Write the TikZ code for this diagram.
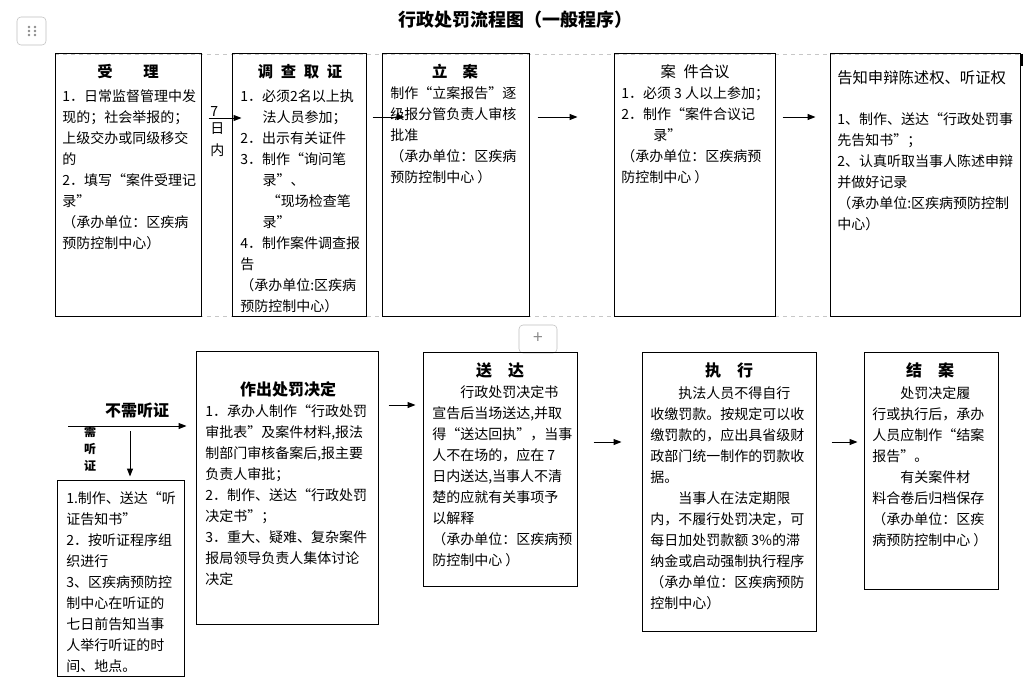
\documentclass[tikz,border=0pt]{standalone}
\usepackage{fontspec}
\setmainfont{Noto Sans CJK SC}
\usetikzlibrary{arrows.meta,calc,fit}
\tikzset{
  box/.style={draw, line width=0.75pt, inner sep=0pt},
  txt/.style={anchor=north west, align=left, inner sep=0pt, font=\fontsize{10.5}{15.75}\selectfont},
  ttl/.style={inner sep=0pt, font=\fontsize{11.5}{14}\selectfont\bfseries},
  arr/.style={line width=0.75pt, -{Triangle[length=6pt,width=4.5pt]}},
  grid/.style={black!22, dashed, line width=0.5pt},
}

\begin{document}
\begin{tikzpicture}[x=0.75pt,y=-0.75pt]
\useasboundingbox (0,0) rectangle (1030,692);
\fill[white] (0,0) rectangle (1030,692);

% editor handles
\draw[black!25, rounded corners=3pt] (17,17) rectangle (46,45);
\foreach \dx in {29,35}
  \foreach \dy in {27,31,35}
    \fill[black!45] (\dx,\dy) circle (1pt);
\draw[black!25, rounded corners=3pt] (519,325) rectangle (557,353);
\node[text=black!45, font=\fontsize{13}{13}\selectfont] (plus) at (538,338) {+};

\node[font=\fontsize{13.5}{16}\selectfont\bfseries] (title) at (515,20) {行政处罚流程图（一般程序）};

\draw[grid] (55,54) -- (1020,54);
\draw[grid] (55,316) -- (1020,316);
\draw[line width=2pt] (1022,54) -- (1022,66);

% top row
\node[box, fit={(55,54) (201,316)}] (sl) {};
\node[ttl] (sl-h) at (128,72) {受\hspace{2em}理};
\node[txt] (sl-t) at (62,89) {1．日常监督管理中发\\现的；社会举报的；\\上级交办或同级移交\\的\\2．填写“案件受理记\\录”\\（承办单位：区疾病\\预防控制中心）};

\node[box, fit={(232,54) (366,316)}] (dc) {};
\node[ttl] (dc-h) at (300,72) {调\hspace{0.5em}查\hspace{0.5em}取\hspace{0.5em}证};
\node[txt] (dc-t) at (240,89) {1．必须2名以上执\\\hspace*{1.6em}法人员参加；\\2．出示有关证件\\3．制作“询问笔\\\hspace*{1.6em}录”、\\\hspace*{1.9em}“现场检查笔\\\hspace*{1.6em}录”\\4．制作案件调查报\\告\\（承办单位:区疾病\\预防控制中心）};

\node[box, fit={(382,54) (529,316)}] (la) {};
\node[ttl] (la-h) at (455,72) {立\hspace{1em}案};
\node[txt] (la-t) at (390,86) {制作“立案报告”逐\\级报分管负责人审核\\批准\\（承办单位：区疾病\\预防控制中心 ）};

\node[box, fit={(614,54) (775,316)}] (hy) {};
\node[inner sep=0pt, font=\fontsize{11.5}{14}\selectfont] (hy-h) at (695,72) {案\hspace{0.5em}件合议};
\node[txt] (hy-t) at (621,86) {1．必须 3 人以上参加；\\2．制作“案件合议记\\\hspace*{2.3em}录”\\（承办单位：区疾病预\\防控制中心 ）};

\node[box, fit={(830,54) (1020,316)}] (gz) {};
\node[anchor=west, inner sep=0pt, font=\fontsize{11.5}{14}\selectfont] (gz-h) at (837,78) {告知申辩陈述权、听证权};
\node[txt] (gz-t) at (837,112) {1、制作、送达“行政处罚事\\先告知书”；\\2、认真听取当事人陈述申辩\\并做好记录\\（承办单位:区疾病预防控制\\中心）};

\draw[arr] ($(sl.east |- 0,118)+(7,0)$) -- ($(dc.west |- 0,118)+(10,0)$)
  node[at start, anchor=south west, inner sep=1pt, font=\fontsize{10.5}{12}\selectfont] (d7) {7}
  node[at start, anchor=north west, inner sep=1pt, yshift=-2pt, align=center, font=\fontsize{10.5}{16.5}\selectfont] (dn) {日\\内};
\draw[arr] ($(dc.east |- 0,117)+(6,0)$) -- ($(la.west |- 0,117)+(23,0)$);
\draw[arr] ($(la.east |- 0,117)+(8,0)$) -- ($(hy.west |- 0,117)+(-36,0)$);
\draw[arr] ($(hy.east |- 0,117)+(7,0)$) -- ($(gz.west |- 0,117)+(-14,0)$);

% bottom row
\node[box, fit={(196,351) (378,624)}] (zc) {};
\node[ttl, font=\fontsize{12}{14}\selectfont\bfseries] (zc-h) at (288,389) {作出处罚决定};
\node[txt] (zc-t) at (205,404) {1．承办人制作“行政处罚\\审批表”及案件材料,报法\\制部门审核备案后,报主要\\负责人审批；\\2．制作、送达“行政处罚\\决定书”；\\3．重大、疑难、复杂案件\\报局领导负责人集体讨论\\决定};

\coordinate (fork) at (68,426);
\node[font=\fontsize{12}{14}\selectfont\bfseries, inner sep=0pt] (bx) at (137,411) {不需听证};
\draw[arr] (fork) -- ($(fork -| zc.west)+(-9,0)$);
\node[align=center, inner sep=0pt, font=\fontsize{9}{13}\selectfont\bfseries] (xt) at (90,449) {需\\听\\证};

\node[box, fit={(57,480) (184,676)}] (tz) {};
\coordinate (hs) at (130,431);
\draw[arr] (hs) -- ($(hs |- tz.north)+(0,-3)$);
\begin{scope}
\clip (57,480) rectangle (184,673);
\node[txt] (tz-t) at (66,491) {1.制作、送达“听\\证告知书”\\2．按听证程序组\\织进行\\3、区疾病预防控\\制中心在听证的\\七日前告知当事\\人举行听证的时\\间、地点。};
\end{scope}

\node[box, fit={(423,352) (577,586)}] (sd) {};
\node[ttl, font=\fontsize{12}{14}\selectfont\bfseries] (sd-h) at (500,370) {送\hspace{1em}达};
\node[txt] (sd-t) at (432,385) {\hspace*{2em}行政处罚决定书\\宣告后当场送达,并取\\得“送达回执”，当事\\人不在场的，应在 7\\日内送达,当事人不清\\楚的应就有关事项予\\以解释\\（承办单位：区疾病预\\防控制中心 ）};

\node[box, fit={(642,352) (816,631)}] (zx) {};
\node[ttl, font=\fontsize{12}{14}\selectfont\bfseries] (zx-h) at (729,370) {执\hspace{1em}行};
\node[txt] (zx-t) at (650,386) {\hspace*{2em}执法人员不得自行\\收缴罚款。按规定可以收\\缴罚款的，应出具省级财\\政部门统一制作的罚款收\\据。\\\hspace*{2em}当事人在法定期限\\内，不履行处罚决定，可\\每日加处罚款额 3\%的滞\\纳金或启动强制执行程序\\（承办单位：区疾病预防\\控制中心）};

\node[box, fit={(864,352) (998,589)}] (ja) {};
\node[ttl, font=\fontsize{12}{14}\selectfont\bfseries] (ja-h) at (930,370) {结\hspace{1em}案};
\node[txt] (ja-t) at (872,386) {\hspace*{2em}处罚决定履\\行或执行后，承办\\人员应制作“结案\\报告”。\\\hspace*{2em}有关案件材\\料合卷后归档保存\\（承办单位：区疾\\病预防控制中心 ）};

\draw[arr] ($(zc.east |- 0,405)+(10,0)$) -- ($(sd.west |- 0,405)+(-7,0)$);
\draw[arr] ($(sd.east |- 0,442)+(16,0)$) -- ($(zx.west |- 0,442)+(-20,0)$);
\draw[arr] ($(zx.east |- 0,442)+(15,0)$) -- ($(ja.west |- 0,442)+(-6,0)$);
\end{tikzpicture}
\end{document}
